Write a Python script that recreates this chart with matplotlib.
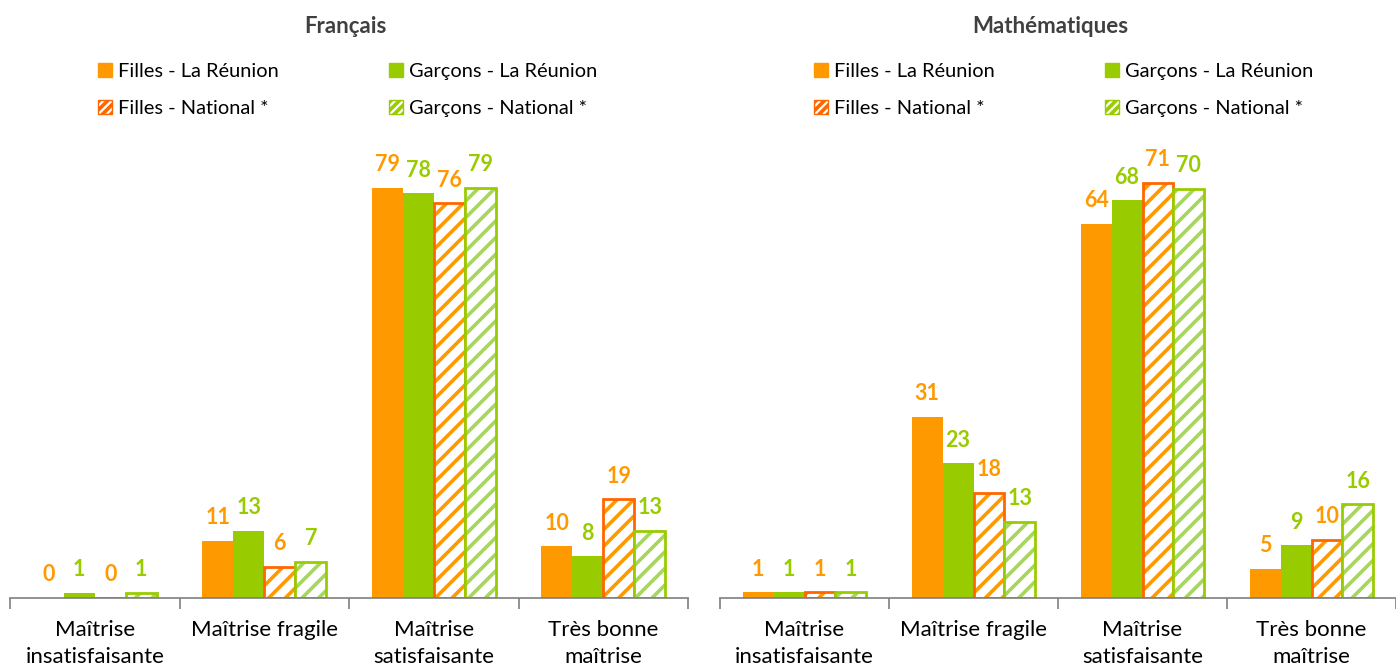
"""Résultats par niveau de maîtrise - Français / Mathématiques"""

import matplotlib
matplotlib.use('Agg')
import matplotlib.pyplot as plt
from matplotlib.patches import Patch
import numpy as np

plt.rcParams['font.family'] = ['Lato', 'DejaVu Sans']
plt.rcParams['hatch.linewidth'] = 2.6

###Data
categories = ['Maîtrise\ninsatisfaisante', 'Maîtrise fragile',
              'Maîtrise\nsatisfaisante', 'Très bonne\nmaîtrise']
series_names = ['Filles - La Réunion', 'Garçons - La Réunion',
                'Filles - National *', 'Garçons - National *']

fr_filles_reunion = [0, 11, 79, 10]
fr_garcons_reunion = [1, 13, 78, 8]
fr_filles_national = [0, 6, 76, 19]
fr_garcons_national = [1, 7, 79, 13]

ma_filles_reunion = [1, 31, 64, 5]
ma_garcons_reunion = [1, 23, 68, 9]
ma_filles_national = [1, 18, 71, 10]
ma_garcons_national = [1, 13, 70, 16]
###Data end

###Adjustments
orange = '#FF9900'
orange_edge = '#FF6600'
green = '#99CC00'
green_hatch = '#A6D65E'
label_size = 16
value_size = 15.5
legend_size = 14.4
bar_w = 0.183
###Adjustments end


def draw_panel(ax, title, values, ymax, leg_x, title_x):
    x = np.arange(len(categories))
    offsets = (np.arange(4) - 1.5) * bar_w
    styles = [
        dict(fill=orange, hatch=None, edge=orange, txt=orange),
        dict(fill=green, hatch=None, edge=green, txt=green),
        dict(fill='white', hatch=orange, edge=orange_edge, txt=orange),
        dict(fill='white', hatch=green_hatch, edge=green, txt=green),
    ]
    for vals, off, st in zip(values, offsets, styles):
        if st['hatch'] is None:
            ax.bar(x + off, vals, bar_w, color=st['fill'], linewidth=0)
        else:
            ax.bar(x + off, vals, bar_w, color='white', edgecolor=st['hatch'],
                   hatch='//', linewidth=0)
            ax.bar(x + off, vals, bar_w, fill=False, edgecolor=st['edge'],
                   linewidth=2)
        for xi, v in zip(x + off, vals):
            ax.annotate(str(v), (xi, v), xytext=(0, 9), textcoords='offset points',
                        ha='center', va='bottom', fontsize=value_size,
                        fontweight='bold', color=st['txt'])

    ax.set_xlim(-0.5, len(categories) - 0.5)
    ax.set_ylim(0, ymax)
    for s in ['top', 'right', 'left']:
        ax.spines[s].set_visible(False)
    ax.spines['bottom'].set_color('#7f7f7f')
    ax.spines['bottom'].set_linewidth(1.2)
    ax.set_yticks([])
    ax.set_xticks(x)
    ax.set_xticklabels(categories, fontsize=label_size, linespacing=1.4)
    ax.tick_params(axis='x', which='major', length=0, pad=16)
    ax.set_xticks(np.arange(len(categories) + 1) - 0.5, minor=True)
    ax.tick_params(axis='x', which='minor', length=8, width=1.2, color='#7f7f7f',
                   direction='out')

    handles = [
        Patch(facecolor=orange, edgecolor=orange),
        Patch(facecolor='white', edgecolor=orange_edge, hatch='////'),
        Patch(facecolor=green, edgecolor=green),
        Patch(facecolor='white', edgecolor=green, hatch='////'),
    ]
    labels = [series_names[0], series_names[2], series_names[1], series_names[3]]
    ax.legend(handles, labels, ncol=2, frameon=False, fontsize=legend_size,
              loc='upper left', bbox_to_anchor=(leg_x, 1.212),
              handlelength=0.7, handleheight=0.7, handletextpad=0.3,
              columnspacing=5.5, labelspacing=1.0, borderaxespad=0)
    ax.set_title(title, fontsize=16, fontweight='bold', pad=0, x=title_x, y=1.26,
                 color='#404040')


fig = plt.figure(figsize=(13.96, 6.68), dpi=100)
ax1 = fig.add_axes([0.0072, 0.1048, 0.4857, 0.6707])
ax2 = fig.add_axes([0.5158, 0.1048, 0.4842, 0.6707])

draw_panel(ax1, 'Français',
           [fr_filles_reunion, fr_garcons_reunion, fr_filles_national, fr_garcons_national],
           86.3, 0.118, 0.494)
draw_panel(ax2, 'Mathématiques',
           [ma_filles_reunion, ma_garcons_reunion, ma_filles_national, ma_garcons_national],
           76.6, 0.127, 0.488)

fig.savefig('out.png', dpi=100)
plt.close()
